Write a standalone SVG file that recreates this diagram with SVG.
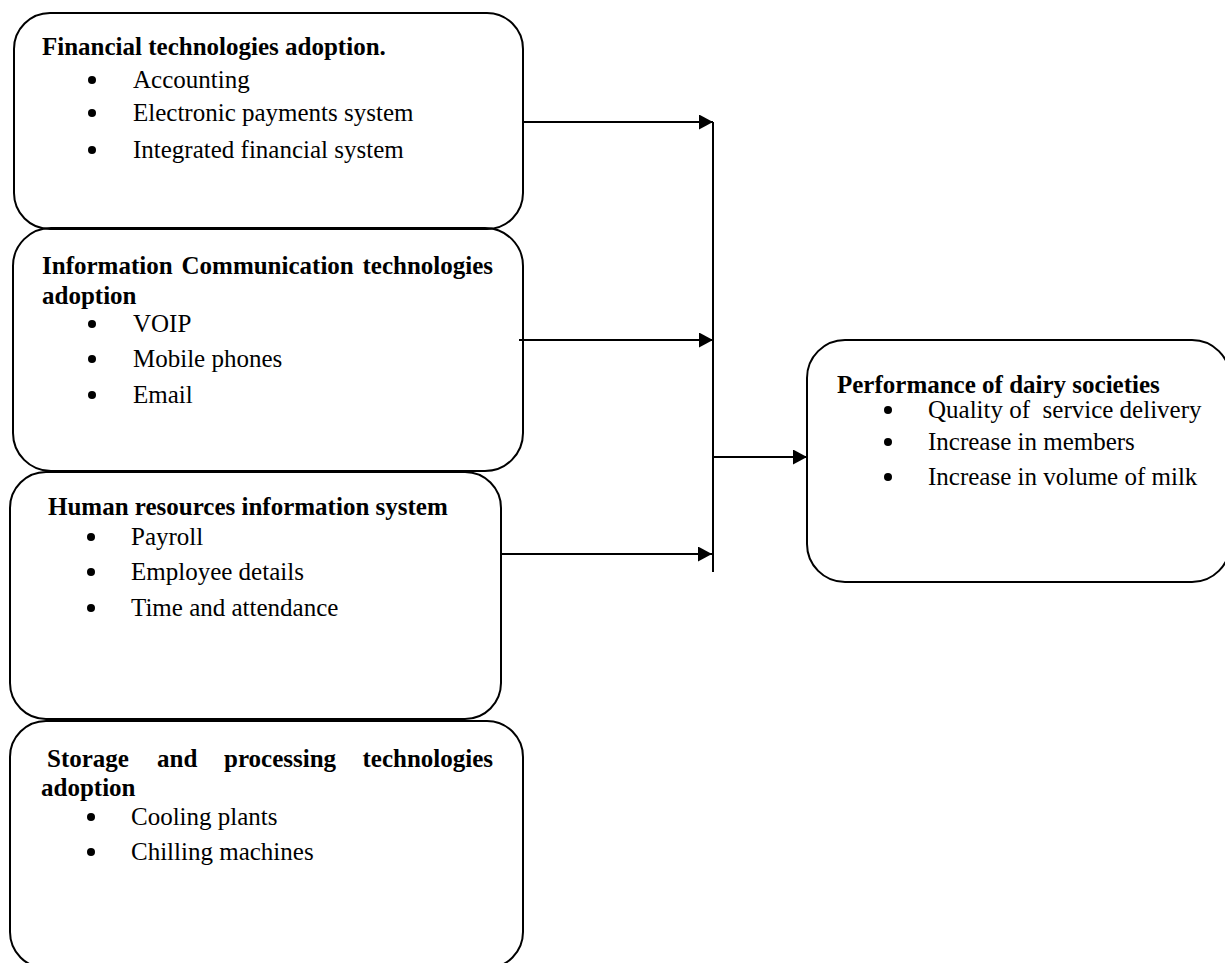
<svg xmlns="http://www.w3.org/2000/svg" width="1225" height="963" viewBox="0 0 1225 963">
<style>
.box{fill:none;stroke:#000;stroke-width:2}
.t{font-family:"Liberation Serif","Times New Roman",serif;font-size:25px;fill:#000}
.b{font-weight:bold}
.d{fill:#000}
.c{stroke:#000;stroke-width:2;fill:none}
</style>
<defs>
<marker id="ah" markerUnits="userSpaceOnUse" markerWidth="15" markerHeight="16" refX="14" refY="7.5" orient="auto">
<path d="M0,0 L14,7.5 L0,15 z" fill="#000"/>
</marker>
</defs>
<rect width="1225" height="963" fill="#fff"/>
<g id="financial">
<rect class="box" x="14" y="13" width="509" height="216" rx="36" ry="36"/>
<text class="t b" x="42" y="55">Financial technologies adoption.</text>
<circle class="d" cx="92" cy="80" r="4"/><text class="t" x="133" y="88">Accounting</text>
<circle class="d" cx="92" cy="113" r="4"/><text class="t" x="133" y="121">Electronic payments system</text>
<circle class="d" cx="92" cy="150" r="4"/><text class="t" x="133" y="158">Integrated financial system</text>
</g>
<g id="ict">
<rect class="box" x="13" y="228" width="510" height="243" rx="38" ry="38"/>
<text class="t b" y="274"><tspan x="42">Information</tspan><tspan x="181.5">Communication</tspan><tspan x="362.5">technologies</tspan></text>
<text class="t b" x="42" y="304">adoption</text>
<circle class="d" cx="92" cy="324" r="4"/><text class="t" x="133" y="332">VOIP</text>
<circle class="d" cx="92" cy="359" r="4"/><text class="t" x="133" y="367">Mobile phones</text>
<circle class="d" cx="92" cy="395" r="4"/><text class="t" x="133" y="403">Email</text>
</g>
<g id="hris">
<rect class="box" x="10" y="472" width="491" height="247" rx="36" ry="36"/>
<text class="t b" x="48" y="515">Human resources information system</text>
<circle class="d" cx="91" cy="537" r="4"/><text class="t" x="131" y="545">Payroll</text>
<circle class="d" cx="91" cy="572" r="4"/><text class="t" x="131" y="580">Employee details</text>
<circle class="d" cx="91" cy="608" r="4"/><text class="t" x="131" y="616">Time and attendance</text>
</g>
<g id="storage">
<rect class="box" x="10" y="721" width="513" height="247" rx="36" ry="36"/>
<text class="t b" y="767"><tspan x="47">Storage</tspan><tspan x="157">and</tspan><tspan x="224">processing</tspan><tspan x="362.5">technologies</tspan></text>
<text class="t b" x="41" y="796">adoption</text>
<circle class="d" cx="91" cy="817" r="4"/><text class="t" x="131" y="825">Cooling plants</text>
<circle class="d" cx="91" cy="852" r="4"/><text class="t" x="131" y="860">Chilling machines</text>
</g>
<g id="performance">
<rect class="box" x="807" y="340" width="423" height="242" rx="38" ry="38"/>
<text class="t b" x="837" y="393">Performance of dairy societies</text>
<circle class="d" cx="888" cy="410" r="4"/><text class="t" x="928" y="418" xml:space="preserve">Quality of  service delivery</text>
<circle class="d" cx="888" cy="442" r="4"/><text class="t" x="928" y="450">Increase in members</text>
<circle class="d" cx="888" cy="477" r="4"/><text class="t" x="928" y="485">Increase in volume of milk</text>
</g>
<g id="connectors">
<line class="c" x1="713" y1="122" x2="713" y2="572"/>
<line class="c" x1="523" y1="122" x2="713" y2="122" marker-end="url(#ah)"/>
<line class="c" x1="519" y1="340" x2="713" y2="340" marker-end="url(#ah)"/>
<line class="c" x1="501" y1="554" x2="712" y2="554" marker-end="url(#ah)"/>
<line class="c" x1="713" y1="457" x2="807" y2="457" marker-end="url(#ah)"/>
</g>
</svg>
